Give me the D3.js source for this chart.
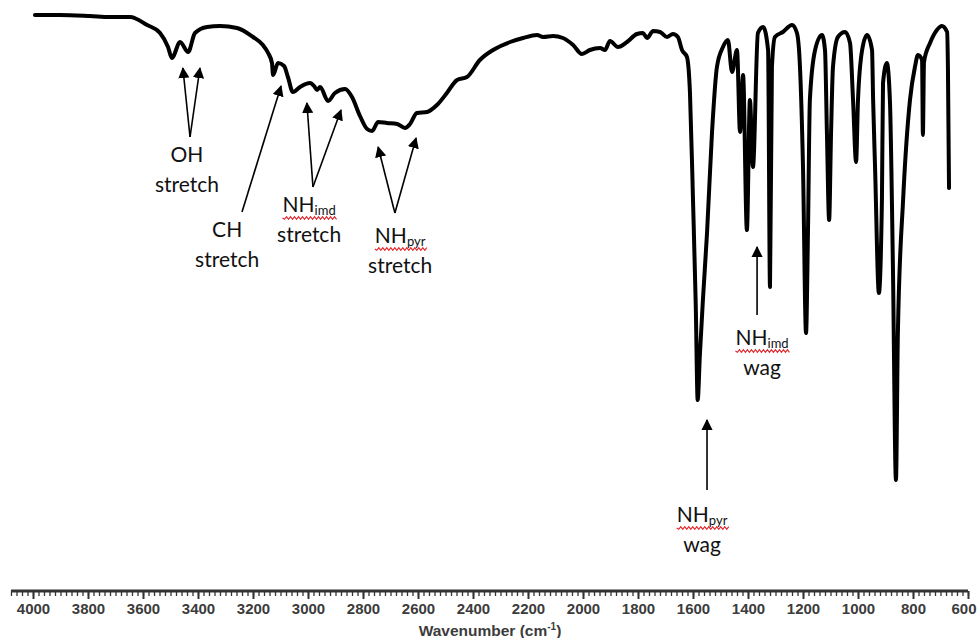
<!DOCTYPE html>
<html lang="en">
<head>
<meta charset="utf-8" />
<script src="https://cdn.jsdelivr.net/npm/d3@7"></script>
<style>
  body { margin: 0; background: #fff; }
  .lbl { font-family: Lato, "Open Sans", sans-serif; font-size: 21px; fill: #111; }
  .tick text { font-family: "Liberation Sans", Arial, sans-serif; font-weight: bold; font-size: 15px; fill: #3c3c3c; }
</style>
</head>
<body>
<script>
// spectrum (wavenumber cm-1, transmittance %)
var wavenumber = [3993,3902,3793,3720,3647,3585,3538,3509,3495,3465,
  3436,3411,3367,3320,3258,3200,3164,3145,3131,3127,
  3109,3087,3073,3055,3029,2993,2978,2967,2956,2927,
  2902,2865,2840,2811,2785,2767,2745,2713,2676,2647,
  2629,2604,2567,2531,2495,2458,2422,2375,2327,2265,
  2218,2167,2145,2109,2073,2036,2004,1975,1938,1920,
  1902,1873,1840,1804,1782,1767,1745,1720,1695,1673,
  1655,1640,1622,1611,1600,1590,1583,1575,1564,1549,
  1531,1513,1491,1473,1458,1440,1429,1418,1404,1393,
  1382,1364,1345,1327,1320,1313,1302,1273,1240,1222,
  1211,1200,1189,1182,1175,1156,1131,1120,1113,1105,
  1098,1091,1073,1047,1029,1018,1007,1000,985,967,
  949,945,938,924,913,909,895,884,873,862,
  855,836,811,793,782,767,764,760,738,713,
  695,676,673,669];
var transmittance = [98,98,97.8,97.6,97.6,96,94.4,91.6,89.4,92.6,
  90.6,94.4,95.6,95.8,95.4,93.6,92,90.4,88.4,86,
  88.4,87.8,85.6,82.6,83.6,84.4,83.8,83,83.6,80.8,
  82.4,83.2,81.6,77.8,75.2,74.8,76.6,76.4,76.2,75.4,
  76.2,78.4,78.6,80,82.4,85,85.6,89,91,92.6,
  93.4,94,93.6,93.8,93.4,92,90.2,91,91.4,91,
  92.8,91.6,92.6,94.2,94.4,93.4,94.8,94.6,93.6,94.2,
  93.6,91,89.6,82.4,61,40,21,30,41,54.4,
  74.4,87.6,91.6,93,86.6,91,74.6,86,55,81,
  67.6,94.4,95.6,91,43.6,87.6,93.6,94.6,96,94.4,
  87.6,67.6,34.4,54.4,81,91,94,91,74.4,57,
  74.4,87.6,93.6,94.6,92.4,81,68.6,81,91,94,
  91,81,67.6,42.4,61,84.4,88.4,81,47.6,5,
  34.4,61,81,87.6,90,89,74,88.6,92.4,95,
  95.8,94.6,87.6,63.4];
var tickLabels = [4000,3800,3600,3400,3200,3000,2800,2600,2400,2200,2000,1800,1600,1400,1200,1000,800,600];

// band assignments
var bandNames = ["OH", "CH", "NH", "NH", "NH", "NH"];
var bandSubs = ["", "", "imd", "pyr", "pyr", "imd"];
var bandModes = ["stretch", "stretch", "stretch", "stretch", "wag", "wag"];
// arrow base, arrow tips and label spot, in wavenumber / %T
var bandBase = [[3429, 73.6], [3240, 58.6], [2982, 63.6], [2684, 58.4], [1549, 3], [1367, 38]];
var bandTips = [
  [[3455, 87.4], [3393, 87.4]],
  [[3098, 83.8]],
  [[3004, 80.4], [2880, 79]],
  [[2745, 71.6], [2607, 73.4]],
  [[1549, 17]],
  [[1367, 51.6]]
];
var bandText = [[3440, 68.6], [3294, 53.6], [2996, 58.6], [2665, 52.4], [1567, -3.4], [1349, 32]];

var w = 977, h = 638;
var x = d3.scaleLinear().domain([4080, 600]).range([11, 968]);
var y = d3.scaleLinear().domain([0, 100]).range([505, 5]);

var svg = d3.select("body").append("svg")
  .attr("width", w).attr("height", h);

svg.append("defs").append("marker")
  .attr("id", "head")
  .attr("viewBox", "0 0 10 10")
  .attr("refX", 9).attr("refY", 5)
  .attr("markerWidth", 7).attr("markerHeight", 7)
  .attr("markerUnits", "strokeWidth")
  .attr("orient", "auto")
  .append("path").attr("d", "M0,0L10,5L0,10z").attr("fill", "#000");

//spectrum
var pts = wavenumber.map(function(d, i) { return [d, transmittance[i]]; });
svg.append("path")
  .datum(pts)
  .attr("fill", "none")
  .attr("stroke", "#000")
  .attr("stroke-width", 4)
  .attr("stroke-linejoin", "round")
  .attr("stroke-linecap", "round")
  .attr("d", d3.line()
    .curve(d3.curveMonotoneX)
    .x(function(d) { return x(d[0]); })
    .y(function(d) { return y(d[1]); }));

//x axis, minor ticks every 20 and labelled ticks every 200
var axisY = 591;
var minor = d3.range(600, 4081, 20);
svg.append("g")
  .attr("transform", "translate(0," + axisY + ")")
  .call(d3.axisBottom(x).tickValues(minor).tickSize(5).tickSizeOuter(0).tickFormat(""))
  .call(function(g) {
    g.select(".domain").remove();
    g.selectAll("line").attr("stroke", "#333").attr("stroke-width", 1.3);
  });
var ax = svg.append("g")
  .attr("transform", "translate(0," + axisY + ")")
  .call(d3.axisBottom(x).tickValues(tickLabels).tickSize(8).tickSizeOuter(0)
    .tickPadding(4).tickFormat(d3.format("d")));
ax.select(".domain").attr("stroke", "#333").attr("stroke-width", 3)
  .attr("d", "M" + x(4080) + ",0H" + x(600));
ax.selectAll(".tick line").attr("stroke", "#333").attr("stroke-width", 2);
ax.selectAll(".tick text").attr("dy", "0.75em");
ax.selectAll(".tick text").filter(function(d) { return d === 600; })
  .attr("text-anchor", "end").attr("x", 976 - x(600));

var title = svg.append("text")
  .attr("x", 490).attr("y", 636)
  .attr("text-anchor", "middle")
  .style("font-family", "'Liberation Sans', Arial, sans-serif")
  .style("font-weight", "bold").style("font-size", "15.5px").style("fill", "#3c3c3c")
  .text("Wavenumber (cm");
title.append("tspan").attr("dy", -6).style("font-size", "10px").text("-1");
title.append("tspan").attr("dy", 6).text(")");

//annotations
bandBase.forEach(function(b, i) {
  bandTips[i].forEach(function(t) {
    svg.append("line")
      .attr("x1", x(b[0])).attr("y1", y(b[1]))
      .attr("x2", x(t[0])).attr("y2", y(t[1]))
      .attr("stroke", "#000").attr("stroke-width", 1.6)
      .attr("marker-end", "url(#head)");
  });

  var cx = x(bandText[i][0]), by = y(bandText[i][1]);
  var t1 = svg.append("text").attr("class", "lbl")
    .attr("x", cx).attr("y", by).attr("text-anchor", "middle");
  t1.append("tspan").text(bandNames[i]);
  if (bandSubs[i]) {
    t1.append("tspan").attr("dy", 3).style("font-size", "13px").text(bandSubs[i]);
    var bb = t1.node().getBBox();
    var x0 = bb.x, x1 = bb.x + bb.width, yy = by + 6;
    var d = "M" + x0 + "," + yy;
    for (var k = x0, s = 1; k < x1; k += 2, s = -s) {
      d += "L" + (k + 2) + "," + (yy + s * 1.3);
    }
    svg.append("path").attr("d", d).attr("fill", "none")
      .attr("stroke", "#e2262b").attr("stroke-width", 1.2);
  }
  svg.append("text").attr("class", "lbl")
    .attr("x", cx).attr("y", by + 30).attr("text-anchor", "middle")
    .text(bandModes[i]);
});
</script>
</body>
</html>
